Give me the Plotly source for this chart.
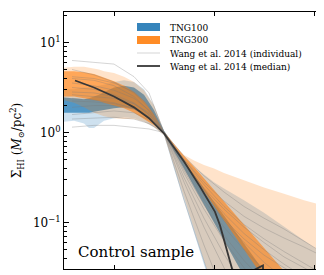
import numpy as np
import plotly.graph_objects as go

# ---------------- data (log10 of Sigma_HI in Msun/pc^2) ----------------
x_grid = [0.0, 0.1, 0.2, 0.25, 0.3, 0.35, 0.4, 0.5, 0.6, 0.7, 0.8, 0.9, 1.0,
          1.1, 1.2, 1.3, 1.4, 1.5, 1.6, 1.8, 2.0, 2.2, 2.4, 2.6]

tng100_outer_hi = [0.48, 0.48, 0.50, 0.50, 0.51, 0.52, 0.53, 0.56, 0.58, 0.56, 0.48, 0.30, 0.02,
                   -0.14, -0.27, -0.38, -0.47, -0.55, -0.62, -0.75, -0.89, -1.04, -1.19, -1.35]
tng100_inner_hi = [0.39, 0.38, 0.37, 0.38, 0.40, 0.42, 0.45, 0.50, 0.52, 0.50, 0.42, 0.25, 0.02,
                   -0.15, -0.31, -0.46, -0.62, -0.77, -0.92, -1.23, -1.54, -1.85, -2.16, -2.47]
tng100_inner_lo = [0.22, 0.22, 0.22, 0.22, 0.23, 0.24, 0.25, 0.27, 0.28, 0.26, 0.20, 0.11, -0.01,
                   -0.20, -0.40, -0.60, -0.80, -1.00, -1.19, -1.59, -1.99, -2.39, -2.79, -3.19]
tng100_outer_lo = [0.12, 0.13, 0.10, 0.05, 0.05, 0.09, 0.13, 0.16, 0.17, 0.16, 0.12, 0.06, -0.03,
                   -0.40, -0.78, -1.15, -1.52, -1.90, -2.25, -3.00, -3.60, -4.20, -4.80, -5.40]

tng300_outer_hi = [0.72, 0.73, 0.73, 0.72, 0.71, 0.70, 0.68, 0.66, 0.62, 0.56, 0.47, 0.30, 0.02,
                   -0.14, -0.25, -0.31, -0.36, -0.40, -0.45, -0.53, -0.61, -0.68, -0.75, -0.81]
tng300_inner_hi = [0.68, 0.68, 0.67, 0.66, 0.65, 0.63, 0.61, 0.57, 0.52, 0.45, 0.35, 0.20, 0.01,
                   -0.13, -0.26, -0.38, -0.51, -0.64, -0.77, -1.02, -1.28, -1.54, -1.79, -2.05]
tng300_inner_lo = [0.40, 0.40, 0.38, 0.37, 0.36, 0.35, 0.33, 0.30, 0.27, 0.22, 0.15, 0.08, -0.01,
                   -0.16, -0.32, -0.49, -0.65, -0.81, -0.97, -1.30, -1.62, -1.94, -2.27, -2.59]
tng300_outer_lo = [0.36, 0.33, 0.28, 0.25, 0.22, 0.20, 0.18, 0.16, 0.15, 0.15, 0.12, 0.06, -0.03,
                   -0.37, -0.72, -1.07, -1.42, -1.77, -2.10, -2.80, -3.50, -4.20, -4.90, -5.60]

wang_x = [0.08, 0.3, 0.5, 0.7, 0.85, 1.0, 1.2, 1.4, 1.6, 1.8, 2.0, 2.2, 2.4, 2.6]
wang_individual = [
    [0.80, 0.78, 0.76, 0.62, 0.44, 0.00, -0.26, -0.48, -0.66, -0.82, -0.95, -1.07, -1.20, -1.34],
    [0.06, 0.08, 0.08, 0.06, 0.04, 0.00, -0.30, -0.55, -0.76, -0.93, -1.06, -1.17, -1.27, -1.38],
    [0.62, 0.60, 0.55, 0.45, 0.30, 0.00, -0.34, -0.62, -0.85, -1.05, -1.22, -1.38, -1.50, -1.62],
    [0.55, 0.52, 0.47, 0.38, 0.25, 0.00, -0.40, -0.75, -1.05, -1.30, -1.52, -1.70, -1.85, -2.00],
    [0.70, 0.64, 0.56, 0.44, 0.28, 0.00, -0.45, -0.85, -1.20, -1.50, -1.75, -1.95, -2.10, -2.25],
    [0.45, 0.44, 0.40, 0.32, 0.20, 0.00, -0.50, -0.95, -1.35, -1.70, -2.00, -2.30, -2.60, -2.90],
    [0.35, 0.34, 0.32, 0.27, 0.18, 0.00, -0.55, -1.05, -1.50, -1.90, -2.30, -2.70, -3.10, -3.50],
    [0.28, 0.30, 0.30, 0.26, 0.16, 0.00, -0.65, -1.25, -1.80, -2.30, -2.80, -3.30, -3.80, -4.30],
    [0.50, 0.48, 0.42, 0.33, 0.20, 0.00, -0.75, -1.45, -2.10, -2.70, -3.30, -3.90, -4.50, -5.10],
    [0.20, 0.22, 0.24, 0.22, 0.14, 0.00, -0.38, -0.70, -0.98, -1.22, -1.44, -1.62, -1.80, -1.95],
    [0.42, 0.40, 0.38, 0.32, 0.22, 0.00, -0.30, -0.58, -0.82, -1.02, -1.18, -1.32, -1.45, -1.58],
    [0.15, 0.16, 0.17, 0.15, 0.10, 0.00, -0.42, -0.80, -1.14, -1.42, -1.66, -1.86, -2.05, -2.22],
    [0.60, 0.58, 0.52, 0.40, 0.24, 0.00, -0.36, -0.68, -0.96, -1.18, -1.36, -1.50, -1.62, -1.74],
    [0.38, 0.36, 0.33, 0.27, 0.17, 0.00, -0.33, -0.64, -0.90, -1.12, -1.30, -1.46, -1.60, -1.72],
]

wang_median_x = [0.11, 0.3, 0.5, 0.7, 0.85, 1.0, 1.2, 1.36, 1.51, 1.56, 1.69, 1.80, 1.91, 1.99, 1.995]
wang_median = [0.578, 0.50, 0.40, 0.28, 0.16, -0.01, -0.32, -0.60, -0.88, -1.03, -1.55, -1.70,
               -1.52, -1.475, -2.20]

y_ticks = [0.1, 1, 10]
y_tick_text = ["10<sup>−1</sup>", "10<sup>0</sup>", "10<sup>1</sup>"]
y_minor_ticks = [0.04, 0.05, 0.06, 0.07, 0.08, 0.09,
                 0.2, 0.3, 0.4, 0.5, 0.6, 0.7, 0.8, 0.9,
                 2, 3, 4, 5, 6, 7, 8, 9, 20]
x_ticks = [0.5, 1.5, 2.5]

legend_labels = ["TNG100", "TNG300", "Wang et al. 2014 (individual)", "Wang et al. 2014 (median)"]

# ---------------- figure ----------------
BLUE = (31, 119, 180)
ORANGE = (255, 127, 14)


def rgba(c, a):
    return "rgba(%d,%d,%d,%.3f)" % (c[0], c[1], c[2], a)


def to_sigma(v):
    return np.power(10.0, np.array(v, dtype=float))


fig = go.Figure()


def add_band(hi, lo, color, alpha):
    fig.add_trace(go.Scatter(x=x_grid, y=to_sigma(hi), mode="lines", line=dict(width=0),
                             showlegend=False, hoverinfo="skip"))
    fig.add_trace(go.Scatter(x=x_grid, y=to_sigma(lo), mode="lines", line=dict(width=0),
                             fill="tonexty", fillcolor=rgba(color, alpha),
                             showlegend=False, hoverinfo="skip"))


add_band(tng100_outer_hi, tng100_outer_lo, BLUE, 0.22)
add_band(tng100_inner_hi, tng100_inner_lo, BLUE, 0.70)
add_band(tng300_outer_hi, tng300_outer_lo, ORANGE, 0.22)
add_band(tng300_inner_hi, tng300_inner_lo, ORANGE, 0.60)

for line in wang_individual:
    fig.add_trace(go.Scatter(x=wang_x, y=to_sigma(line), mode="lines",
                             line=dict(color="rgba(120,120,120,0.45)", width=0.7),
                             showlegend=False, hoverinfo="skip"))

fig.add_trace(go.Scatter(x=wang_median_x, y=to_sigma(wang_median), mode="lines",
                         line=dict(color="rgb(55,55,55)", width=1.8),
                         showlegend=False, hoverinfo="skip"))

FONT = "DejaVu Serif"
FONT_C = "DejaVu Serif Condensed, DejaVu Serif"

axis_common = dict(showline=True, linecolor="black", linewidth=1, mirror="allticks",
                   ticks="inside", tickcolor="black", showgrid=False, zeroline=False,
                   automargin=False)

fig.update_xaxes(range=[0, 2.58], tickvals=x_ticks, ticklen=4, showticklabels=False,
                 **axis_common)
fig.update_yaxes(type="log", range=[-1.514, 1.338], tickvals=y_ticks, ticktext=y_tick_text,
                 ticklen=5, tickfont=dict(family=FONT, size=12, color="black"),
                 minor=dict(ticks="inside", ticklen=2.5, tickcolor="black", showgrid=False,
                            tickmode="array", tickvals=y_minor_ticks),
                 title=dict(text="Σ<sub>HI</sub> (<i>M</i><sub>⊙</sub>/pc<sup>2</sup>)",
                            font=dict(family=FONT, size=12, color="black"), standoff=14),
                 **axis_common)

# manual legend (paper coordinates); page body has an 8px margin
OFF = 8.0
L, R_, T, B = 64.0 - OFF, 322.0 - OFF, 12.0 - OFF, 269.0 - OFF


def px(xp):
    return (xp - OFF - L) / (R_ - L)


def py(yp):
    return (B - (yp - OFF)) / (B - T)


shapes = [
    dict(type="rect", xref="paper", yref="paper", x0=px(137), x1=px(160), y0=py(31), y1=py(23),
         fillcolor=rgba(BLUE, 0.9), line=dict(width=0)),
    dict(type="rect", xref="paper", yref="paper", x0=px(137), x1=px(160), y0=py(44), y1=py(36),
         fillcolor=rgba(ORANGE, 0.9), line=dict(width=0)),
    dict(type="line", xref="paper", yref="paper", x0=px(137), x1=px(160), y0=py(53), y1=py(53),
         line=dict(color="rgba(150,150,150,0.5)", width=0.8)),
    dict(type="line", xref="paper", yref="paper", x0=px(137), x1=px(160), y0=py(66), y1=py(66),
         line=dict(color="rgb(55,55,55)", width=1.8)),
]
annotations = []
for lab, yy in zip(legend_labels, [27, 40, 53, 66]):
    annotations.append(dict(text=lab, xref="paper", yref="paper", x=px(168), y=py(yy),
                            xanchor="left", yanchor="middle", showarrow=False,
                            font=dict(family=FONT_C, size=10, color="black")))
annotations.append(dict(text="Control sample", xref="paper", yref="paper", x=px(76), y=py(252),
                        xanchor="left", yanchor="middle", showarrow=False,
                        font=dict(family=FONT, size=15, color="black")))

fig.update_layout(width=316, height=267, margin=dict(l=56, r=2, t=4, b=6),
                  plot_bgcolor="white", paper_bgcolor="white", showlegend=False,
                  shapes=shapes, annotations=annotations)

fig.write_html("out.html")
